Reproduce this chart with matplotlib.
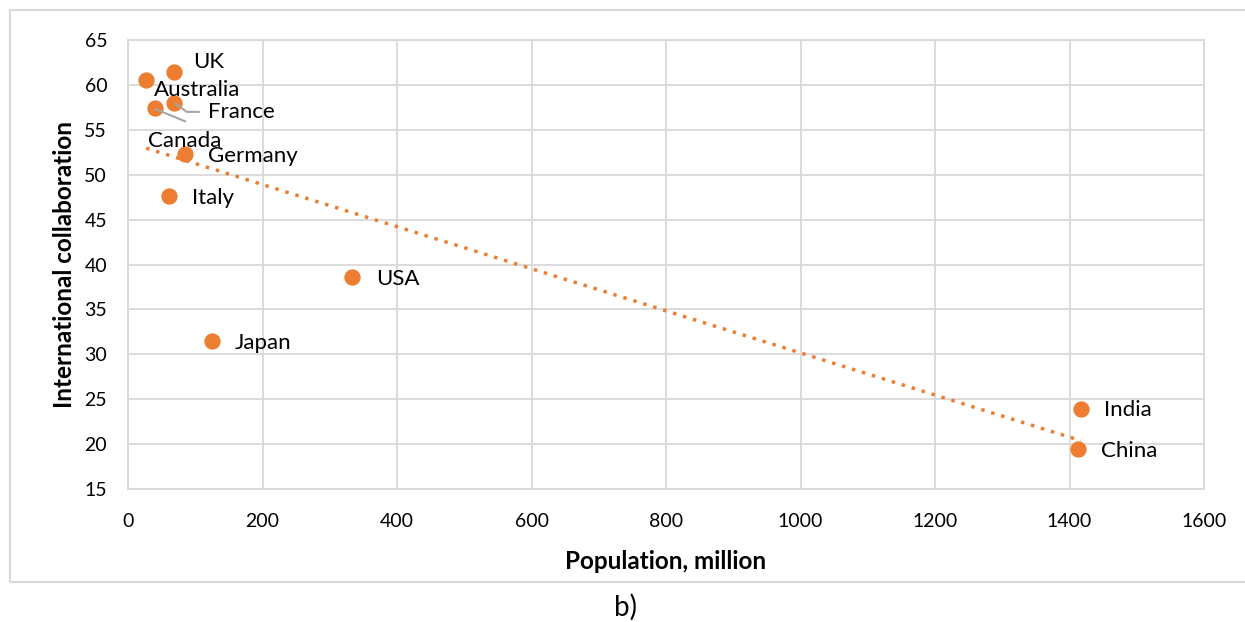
import numpy as np
import matplotlib.pyplot as plt
from matplotlib.patches import Rectangle
from matplotlib.transforms import IdentityTransform

countries = ["UK", "Australia", "France", "Canada", "Germany", "Italy",
             "USA", "Japan", "India", "China"]
population = [68, 27, 68, 40, 85, 61, 333, 125, 1417, 1412]
collaboration = [61.4, 60.5, 58.0, 57.4, 52.3, 47.6, 38.6, 31.5, 23.9, 19.5]

# label offsets in pixels (dx, dy)
label_offsets = {
    "UK": (19, 10), "Australia": (8, -10), "France": (34, -9),
    "Canada": (-7, -33), "Germany": (23, -2), "Italy": (23, -2),
    "USA": (24, -2), "Japan": (23, -2), "India": (23, -1), "China": (23, -2),
}
# leader lines: pixel offsets from the point
leader_paths = {
    "France": [(2, -1), (13, -9), (25, -9)],
    "Canada": [(1, -1), (30, -13)],
}

orange = "#ED7D31"
plt.rcParams['font.family'] = ['Lato', 'DejaVu Sans']

fig = plt.figure(figsize=(12.45, 6.22), dpi=100)
fig.patches.append(Rectangle((10 / 1245, 1 - 582 / 622), 1240 / 1245, 572 / 622,
                             transform=fig.transFigure, fill=False,
                             edgecolor="#d9d9d9", linewidth=1.5))
ax = fig.add_axes([128 / 1245, 1 - 489 / 622, 1076 / 1245, 449 / 622])
ax.set_xlim(0, 1600)
ax.set_ylim(15, 65)

# trendline
coef = np.polyfit(population, collaboration, 1)
xs = np.array([min(population), max(population)])
ax.plot(xs, np.polyval(coef, xs), linestyle=(0, (1, 2)), color=orange,
        linewidth=2.5, zorder=2)

ax.scatter(population, collaboration, s=115, color=orange, zorder=3)

for name, x, y in zip(countries, population, collaboration):
    dx, dy = label_offsets[name]
    ax.annotate(name, (x, y), xytext=(dx, dy), textcoords="offset pixels",
                fontsize=16, va="center", ha="left")
    if name in leader_paths:
        px, py = ax.transData.transform((x, y))
        lx = [px + ox for ox, oy in leader_paths[name]]
        ly = [py + oy for ox, oy in leader_paths[name]]
        ax.plot(lx, ly, color="#a6a6a6", lw=1.5, transform=IdentityTransform(),
                zorder=4)

ax.set_xticks(range(0, 1601, 200))
ax.set_yticks(range(15, 66, 5))
ax.grid(True, color="#d9d9d9", linewidth=1.3)
ax.set_axisbelow(True)
for s in ax.spines.values():
    s.set_color("#d9d9d9")
    s.set_linewidth(1.3)
ax.tick_params(length=0, labelsize=14)
ax.tick_params(axis="y", pad=15)
ax.tick_params(axis="x", pad=17)
ax.set_xlabel("Population, million", fontsize=17.5, fontweight="bold", labelpad=15)
ax.set_ylabel("International collaboration", fontsize=17.5, fontweight="bold",
              labelpad=6)

fig.text(625 / 1245, 1 - 607 / 622, "b)", fontsize=20, ha="center", va="center")

fig.savefig("out.png", dpi=100)
